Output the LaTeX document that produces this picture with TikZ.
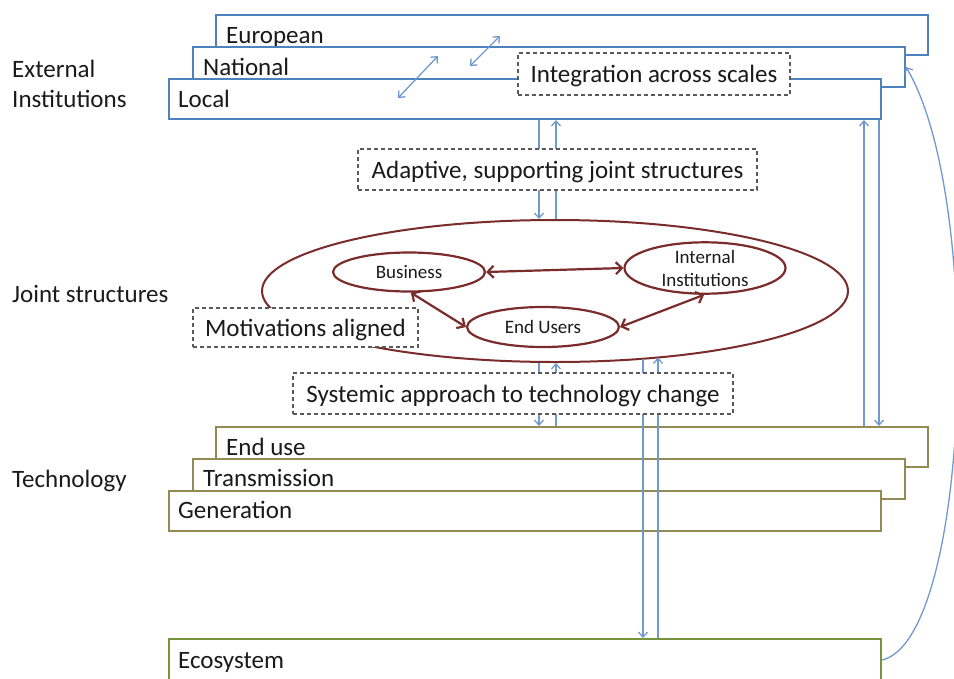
\documentclass[tikz,border=0pt]{standalone}
\usepackage{fontspec}
\setmainfont{Carlito}
\usetikzlibrary{arrows.meta,shapes.geometric}
\definecolor{instblue}{HTML}{4F81BD}
\definecolor{conblue}{HTML}{7099D0}
\definecolor{olivec}{HTML}{948A54}
\definecolor{ecogreen}{HTML}{77933C}
\definecolor{jred}{HTML}{7A2B2B}
\definecolor{dashgray}{HTML}{595959}
\definecolor{txt}{HTML}{1A1A1A}
\newcommand{\mybig}{\fontsize{25}{30}\selectfont}
\newcommand{\mysmall}{\fontsize{19}{23}\selectfont}
\begin{document}
\begin{tikzpicture}[x=1pt,y=-1pt,
  lay/.style={draw, fill=white, line width=2pt, inner sep=0pt, anchor=north west, minimum width=712pt, minimum height=40pt},
  inst/.style={lay, draw=instblue},
  tech/.style={lay, draw=olivec},
  lbl/.style={anchor=west, inner sep=0pt, font=\mybig, text=txt, text height=20pt, text depth=2.5pt},
  dbox/.style={draw=dashgray, dash pattern=on 4pt off 3pt, line width=1.2pt, fill=white, inner sep=0pt, font=\mybig, text=txt, text height=20pt, text depth=2.5pt},
  oval/.style={ellipse, draw=jred, line width=2.2pt, inner sep=0pt, font=\mysmall, text=txt},
  conn/.style={draw=conblue, line width=1.3pt},
  ctip/.style={-{Straight Barb[length=5pt,width=9pt]}},
  cboth/.style={{Straight Barb[length=5pt,width=9pt]}-{Straight Barb[length=5pt,width=9pt]}},
  rarrow/.style={draw=jred, line width=2.2pt, {Straight Barb[length=6pt,width=12pt]}-{Straight Barb[length=6pt,width=12pt]}}
]
\useasboundingbox (0,0) rectangle (954,678);

% side labels
\node[anchor=west, inner sep=0pt, font=\mybig, text=txt, align=left] (lext) at (12,84) {External\\Institutions};
\node[lbl] (ljoint) at (12,294) {Joint structures};
\node[lbl] (ltech) at (12,479) {Technology};

% institution layers
\node[inst] (eur) at (215,14) {};
\node[lbl] (eurt) at (226,35) {European};
\node[inst] (nat) at (192,46) {};
\node[lbl] (natt) at (203,67) {National};
\node[inst] (loc) at (168,78) {};
\node[lbl] (loct) at (178,99) {Local};

% technology layers
\node[tech] (enduse) at (215,426) {};
\node[lbl] (endt) at (226,447) {End use};
\node[tech] (trans) at (192,458) {};
\node[lbl] (transt) at (203,478) {Transmission};
\node[tech] (gen) at (168,490) {};
\node[lbl] (gent) at (178,510) {Generation};
\node[lay, draw=ecogreen, minimum height=42pt] (eco) at (168,638) {};
\node[lbl] (ecot) at (178,660) {Ecosystem};

% joint structures
\node[oval, line width=2pt, minimum width=586pt, minimum height=142pt] (joint) at (555,291) {};
\node[oval, minimum width=152pt, minimum height=39pt] (bus) at (409,272) {Business};
\node[oval, minimum width=161pt, minimum height=49pt, align=center] (int) at (705,268) {Internal\\Institutions};
\node[oval, minimum width=152pt, minimum height=40pt] (eus) at (543,327) {End Users};
\draw[rarrow] (bus.east) -- (int.west);
\draw[rarrow] (bus.-85) -- (eus.west);
\draw[rarrow] (int.-92) -- (eus.east);

% vertical connectors
\coordinate (xa) at (539,0);
\coordinate (xb) at (556,0);
\coordinate (xc) at (864,0);
\coordinate (xd) at (879,0);
\coordinate (ja) at (643,359);
\coordinate (jb) at (658,357.5);
\draw[conn, ctip] (xa |- loc.south) -- (xa |- joint.north);
\draw[conn, ctip] (xb |- joint.north) -- (xb |- loc.south);
\draw[conn, ctip] (xa |- joint.south) -- (xa |- enduse.north);
\draw[conn, ctip] (xb |- enduse.north) -- (xb |- joint.south);
\draw[conn, ctip] (ja) -- (ja |- eco.north);
\draw[conn, ctip] (jb |- eco.north) -- (jb);
\draw[conn, ctip] (xc |- enduse.north) -- (xc |- loc.south);
\draw[conn, ctip] (xd |- loc.south) -- (xd |- enduse.north);
\draw[conn, ctip] (eco.east) .. controls (970,640) and (985,200) .. (nat.east);

% diagonal scale arrows
\coordinate (d1a) at (398,98);
\coordinate (d1b) at (438,56);
\coordinate (d2a) at (470,66);
\coordinate (d2b) at (500,36);
\draw[conn, cboth] (d1a) -- (d1b);
\draw[conn, cboth] (d2a) -- (d2b);

% dashed labels
\node[dbox, minimum width=272pt, minimum height=42pt] (integ) at (654,74) {Integration across scales};
\node[dbox, minimum width=399pt, minimum height=41pt] (adapt) at (557.5,169.5) {Adaptive, supporting joint structures};
\node[dbox, minimum width=225pt, minimum height=39pt] (motiv) at (305.5,327.5) {Motivations aligned};
\node[dbox, minimum width=440pt, minimum height=41pt] (syst) at (513,393.5) {Systemic approach to technology change};
\end{tikzpicture}
\end{document}
